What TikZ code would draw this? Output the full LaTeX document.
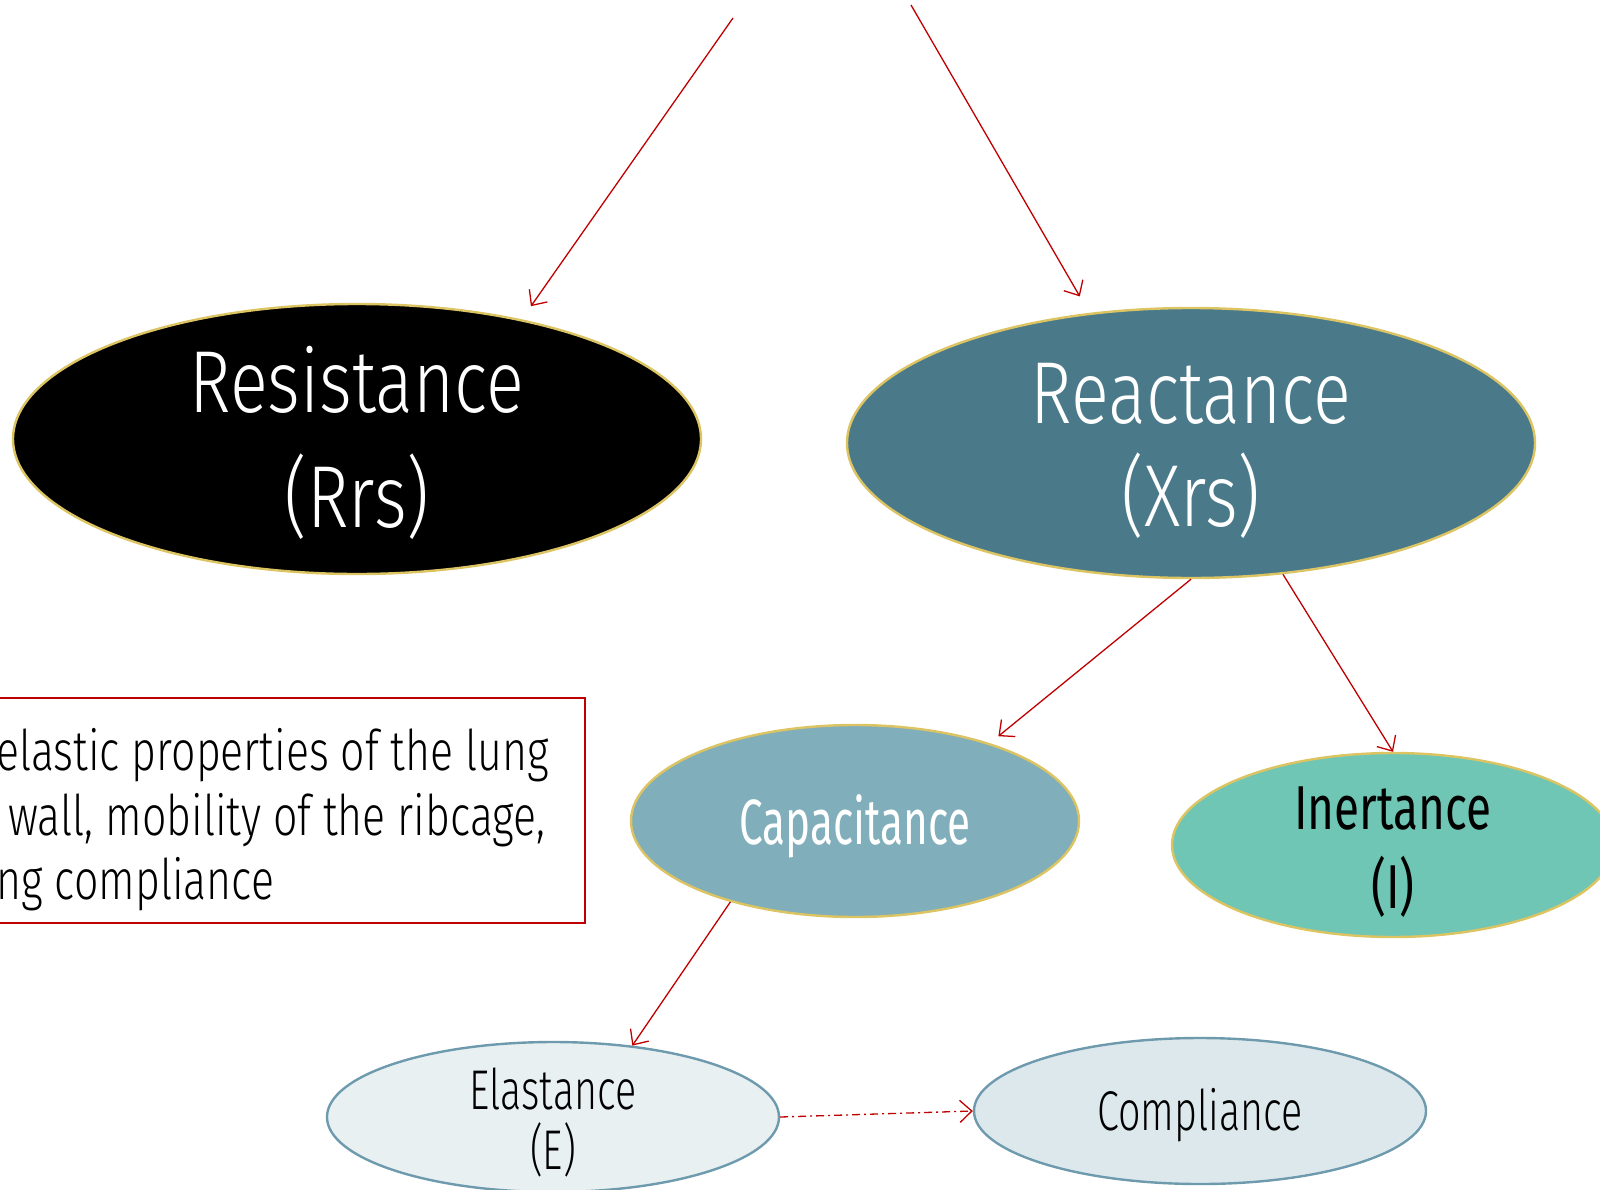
\documentclass[tikz,border=0pt]{standalone}
\usepackage{fontspec}
\setmainfont{Fira Sans}[UprightFont=* Light, FakeStretch=0.80]
\newfontfamily\capfont{Fira Sans}[FakeStretch=0.66]
\newfontfamily\inertfont{Fira Sans}[FakeStretch=0.74]
\newfontfamily\smallfont{Fira Sans}[UprightFont=* Light, FakeStretch=0.705]
\newfontfamily\notefont{Fira Sans}[UprightFont=* Light, FakeStretch=0.765]
\usetikzlibrary{shapes.geometric,arrows.meta}

\definecolor{linkred}{HTML}{C00000}
\definecolor{rimgold}{HTML}{DCC463}
\definecolor{reactfill}{HTML}{4A7A8A}
\definecolor{capfill}{HTML}{80AEBA}
\definecolor{inertfill}{HTML}{70C6B4}
\definecolor{elafill}{HTML}{E8F0F2}
\definecolor{compfill}{HTML}{DDE8EC}
\definecolor{rimblue}{HTML}{6E9AAE}

\tikzset{
  oval/.style={ellipse, inner sep=0pt, line width=1.2pt},
  goldoval/.style={oval, draw=rimgold},
  blueoval/.style={oval, draw=rimblue},
  caption/.style={inner sep=0pt, align=center},
  link/.style={draw=linkred, line width=0.65pt,
    -{Straight Barb[length=6pt,width=11pt,line width=0.65pt]}},
  dashlink/.style={link, dash pattern=on 4pt off 2pt on 1pt off 2pt},
}

\begin{document}
\begin{tikzpicture}[x=0.5pt,y=-0.5pt]
\useasboundingbox (0,0) rectangle (1600,1189);
\clip (0,0) rectangle (1600,1189);

% main branches
\node[goldoval, fill=black, minimum width=344pt, minimum height=135pt] (res) at (357,439) {};
\node[caption, text=white, font=\fontsize{44}{57.5}\selectfont] (resT) at (357,443) {Resistance\\(Rrs)};
\node[goldoval, fill=reactfill, minimum width=344pt, minimum height=135pt] (rea) at (1191,443) {};
\node[caption, text=white, font=\fontsize{44}{51.5}\selectfont] (reaT) at (1191,451) {Reactance\\(Xrs)};

% reactance components
\node[goldoval, fill=capfill, minimum width=224pt, minimum height=96pt] (cap) at (855,821) {};
\node[caption, text=white, font=\capfont\fontsize{32}{38}\selectfont] (capT) at (855,826) {Capacitance};
\node[goldoval, fill=inertfill, minimum width=221pt, minimum height=92pt] (ine) at (1393,845) {};
\node[caption, text=black, font=\inertfont\fontsize{31}{39.5}\selectfont] (ineT) at (1393,852) {Inertance\\(I)};

% capacitance detail
\node[blueoval, fill=elafill, minimum width=226pt, minimum height=75pt] (ela) at (553,1117) {};
\node[caption, font=\smallfont\fontsize{28}{30}\selectfont] (elaT) at (553,1123) {Elastance\\(E)};
\node[blueoval, fill=compfill, minimum width=226pt, minimum height=73pt] (com) at (1200,1111) {};
\node[caption, font=\smallfont\fontsize{28}{30}\selectfont] (comT) at (1200,1115) {Compliance};

% note box
\node[draw=linkred, line width=1pt, minimum width=307.5pt, minimum height=112.5pt,
      inner sep=0pt] (note) at (277.5,810.5) {};
\node[anchor=west, align=left, inner sep=0pt,
      font=\notefont\fontsize{28}{32.25}\selectfont] (notetext) at (-4,820)
  {elastic properties of the lung\\\hspace*{6pt}wall, mobility of the ribcage,\\ng compliance};

% connectors
\coordinate (srcL) at (733,18);
\coordinate (srcR) at (911,5);
\draw[link, shorten >=8pt] (srcL) -- (res.36);
\draw[link, shorten >=9.5pt] (srcR) -- (rea.128);
\draw[link, shorten >=5.5pt] (rea.south) -- (cap.30);
\draw[link] (rea.-55) -- (ine.north);
\draw[link] (cap.-147) -- (ela.42);
\draw[dashlink] (ela.east) -- (com.west);
\end{tikzpicture}
\end{document}
